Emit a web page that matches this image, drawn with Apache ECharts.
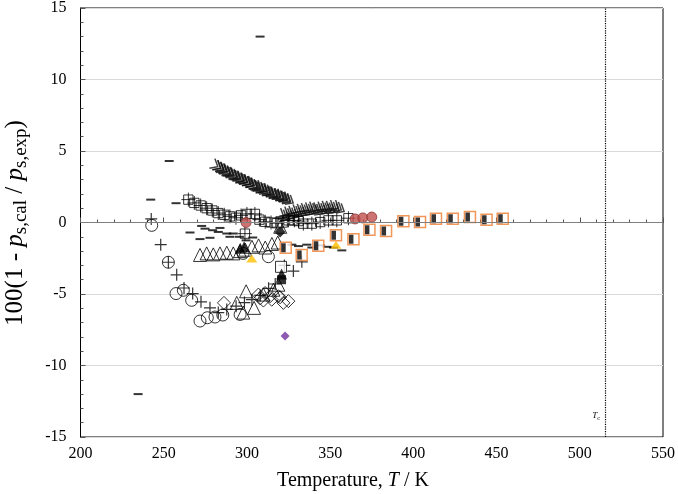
<!DOCTYPE html>
<html><head><meta charset="utf-8">
<script src="https://cdn.jsdelivr.net/npm/echarts@6/dist/echarts.min.js"></script>
<style>html,body{margin:0;padding:0;background:#fff}#c{width:678px;height:494px}</style>
</head><body><div id="c"></div>
<script>
// ---- data (T / K, deviation %) ----
const xTicks = [200, 250, 300, 350, 400, 450, 500, 550];
const yTicks = [-15, -10, -5, 0, 5, 10, 15];
const Tc = 515;
const dashData = [[234.6,-12.0],[242.2,1.6],[253.3,4.3],[257.4,1.35],[307.9,13.0],[265.8,-0.7],[272.8,-0.24],[274.8,-0.43],[279.4,-0.54],[283.8,-0.38],[282.8,-0.66],[287.9,-0.77],[291.8,-0.77],[289.8,-1.0],[271.8,-1.16],[277.8,-1.07],[295.5,-1.0],[299.5,-1.25],[303.5,-1.05],[327.0,-1.55],[331.0,-1.65],[336.0,-1.55],[339.0,-1.75],[344.0,-1.6],[348.0,-1.7],[352.0,-1.75],[357.0,-1.95]];
const crossSqData = [[264.8,1.6],[268.4,1.37],[272.2,1.19],[275.8,1.0],[279.2,0.84],[282.8,0.66],[286.4,0.54],[289.8,0.43],[293.4,0.33],[296.5,0.5],[300,0.6],[304.8,0.6],[307.5,0.2],[311,0.05],[314.5,0.0],[318,-0.05],[321.5,0.0],[325,0.15],[328.5,0.15],[331,0.1],[333.9,-0.08],[339,-0.08],[344,0.03],[349,0.15],[354,0.15],[361,0.3],[298.8,-0.78]];
const chevronUpData = [[282.5,3.9],[284.3,3.8],[286.4,3.6],[288.2,3.55],[290.5,3.35],[292.3,3.3],[294.6,3.1],[296.4,3.05],[298.6,2.9],[300.4,2.8],[302.7,2.7],[304.3,2.55],[306.8,2.4],[308.4,2.4],[310.6,2.2],[312.3,2.2],[314.7,2.0],[316.4,1.95],[318.6,1.85],[320.3,1.8],[322.6,1.65],[324.4,1.6]];
const chevronLowData = [[322,0.45],[324.5,0.55],[327,0.6],[329.5,0.7],[332,0.75],[334.5,0.8],[337,0.85],[339.5,0.9],[342,0.85],[344.5,0.9],[347,0.95],[349.5,0.95],[352,1.0],[355,1.0]];
const circleData = [[242.8,-0.2],[252.8,-2.78],[257.4,-4.97],[261.8,-4.74],[266.8,-5.44],[271.8,-6.89],[276.2,-6.66],[280.8,-6.61],[285.5,-6.47],[295.9,-6.43],[297.7,-2.16],[312.9,-2.39]];
const plusData = [[242.5,0.25],[248.2,-1.55],[252.8,-2.78],[257.8,-3.66],[262.2,-4.58],[267.4,-4.97],[272.4,-5.55],[277.8,-5.97],[282.8,-6.3],[287.9,-6.08],[293.5,-5.85],[298.5,-5.6],[303,-5.4],[308,-5.1],[313,-4.6],[317,-4.3],[322.5,-3.0],[327.9,-3.4],[333,-2.75]];
const triUpperData = [[271.8,-2.27],[275.8,-2.16],[279.8,-2.23],[283.8,-2.16],[287.9,-2.11],[291.8,-2.16],[295.8,-2.0],[299,-1.9],[303,-1.7],[307,-1.6],[311,-1.75],[315,-1.5],[318.5,-1.4],[320,-0.3]];
const triLowerData = [[293.9,-5.62],[297.8,-6.3],[299.5,-4.81],[304.3,-5.97],[309.9,-5.04],[315.9,-4.7],[318.9,-4.35]];
const diamondData = [[286.2,-5.62],[306.9,-5.04],[307.9,-5.3],[309.9,-5.46],[310.9,-4.93],[313.9,-5.16],[314.9,-5.4],[318.9,-5.16],[319.9,-5.23],[321.9,-5.62],[324.9,-5.5]];
const blackTriData = [[296,-1.8],[298.3,-1.7],[320.8,-3.6]];
const blackSqData = [[320.8,-4.0]];
const openSqData = [[320.5,-3.1]];
const blackDiamondData = [[319.9,-0.66]];
const yellowTriData = [[302.9,-2.3],[353.5,-1.35]];
const redCircleData = [[299.5,0.0],[365,0.25],[369.6,0.32],[375,0.38]];
const purpleDiamondData = [[322.9,-7.93]];
const orangeSqData = [[323.3,-1.77],[332.9,-2.27],[342.9,-1.63],[353.5,-0.9],[364,-1.17],[373.6,-0.5],[383.6,-0.6],[394,0.08],[404,0.03],[413.6,0.26],[423.7,0.26],[434,0.38],[444,0.2],[453.7,0.26]];

const chart = echarts.init(document.getElementById('c'), null, {renderer:'canvas'});
const F = 'Liberation Serif';
const open = (c) => ({color:'transparent', borderColor:c||'#000', borderWidth:1});
function sc(name, data, symbol, size, itemStyle, extra) {
  return Object.assign({type:'scatter', name, data, symbol, symbolSize:size, itemStyle, silent:true, animation:false}, extra||{});
}
const chev = 'path://M0,0 L6,5 L0,10 M3,0 L9,5 L3,10 M6,0 L12,5 L6,10';
const series = [
  sc('chevLow', chevronLowData, chev, [13,11], {color:'transparent', borderColor:'#111', borderWidth:1.5}, {symbolRotate:-30}),
  sc('chevUp', chevronUpData, chev, [13,11], {color:'transparent', borderColor:'#111', borderWidth:1.5}, {symbolRotate:-30}),
  sc('crossSq', crossSqData, 'path://M1,1 H9 V9 H1 Z M5,-1 V11 M-1,5 H11', 14, {color:'transparent', borderColor:'#000', borderWidth:1}),
  sc('dash', dashData, 'rect', [9,2], {color:'#000'}),
  sc('circle', circleData, 'circle', 12, open()),
  sc('plus', plusData, 'path://M5,0 V10 M0,5 H10', 12, {color:'transparent', borderColor:'#000', borderWidth:1.2}),
  sc('triUpper', triUpperData, 'triangle', 13, open()),
  sc('triLower', triLowerData, 'triangle', 13, open()),
  sc('diamond', diamondData, 'diamond', 13, open()),
  sc('openSq', openSqData, 'rect', 11, {color:'#fff', borderColor:'#000', borderWidth:1}),
  sc('blackTri', blackTriData, 'triangle', 11, {color:'#000'}),
  sc('blackSq', blackSqData, 'rect', 9, {color:'#000'}),
  sc('blackDiamond', blackDiamondData, 'diamond', 11, {color:'#000'}),
  sc('yellowTri', yellowTriData, 'triangle', [11,8], {color:'#FFC000'}, {symbolOffset:[0,3]}),
  sc('redCircle', redCircleData, 'circle', 10, {color:'#C0504D', borderColor:'#8C3532', borderWidth:1}),
  sc('purple', purpleDiamondData, 'diamond', 9, {color:'#7030A0'}),
  sc('orangeSq', orangeSqData, 'rect', 11, {color:'#fff', borderColor:'#ED7D31', borderWidth:1.5}),
  sc('orangeSqHalf', orangeSqData, 'path://M0,0 H5 V10 H0 Z M10,0 L10,10', 9, {color:'#000', borderWidth:0}),
  {type:'line', data:[], silent:true, animation:false,
   markLine:{silent:true, symbol:'none', label:{show:false}, animation:false,
     data:[{yAxis:0, lineStyle:{color:'#7f7f7f', width:1.2, type:'solid'}},
           {xAxis:Tc, lineStyle:{color:'#000', width:1.2, type:'dotted'}}]}, z:1}
];

chart.setOption({
  animation:false,
  grid:{left:80.5, right:15, top:4, bottom:57, show:true, borderColor:'#000', borderWidth:1},
  xAxis:{type:'value', min:xTicks[0], max:xTicks[xTicks.length-1], interval:50,
    axisLine:{lineStyle:{color:'#000'}}, splitLine:{show:false},
    axisTick:{inside:true, length:5, lineStyle:{color:'#555'}},
    minorTick:{show:true, splitNumber:5, length:3, lineStyle:{color:'#555'}},
    axisLabel:{color:'#000', fontFamily:F, fontSize:16, margin:9}},
  yAxis:{type:'value', min:yTicks[0], max:yTicks[yTicks.length-1], interval:5,
    axisLine:{lineStyle:{color:'#000'}},
    splitLine:{show:true, lineStyle:{color:'#d9d9d9'}},
    axisTick:{inside:true, length:5, lineStyle:{color:'#555'}},
    minorTick:{show:true, splitNumber:5, length:3, lineStyle:{color:'#555'}},
    axisLabel:{color:'#000', fontFamily:F, fontSize:16, margin:14}},
  graphic:[
    {type:'text', x:353, y:481, style:{text:'{n|Temperature, }{i|T}{n| / K}', align:'center', verticalAlign:'middle',
      rich:{n:{fontFamily:F, fontSize:20, fill:'#000'}, i:{fontFamily:F, fontSize:20, fontStyle:'italic', fill:'#000'}}}},
    {type:'text', x:15, y:223, rotation:Math.PI/2, style:{text:'{n|100(1 - }{i|p}{s|s,cal}{n| / }{i|p}{s|s,exp}{n|)}', align:'center', verticalAlign:'middle',
      rich:{n:{fontFamily:F, fontSize:25, fill:'#000'}, i:{fontFamily:F, fontSize:25, fontStyle:'italic', fill:'#000'}, s:{fontFamily:F, fontSize:19, fill:'#000', padding:[13,0,0,0]}}}},
    {type:'text', x:596, y:416, style:{text:'{i|T}{s|c}', align:'center', verticalAlign:'middle',
      rich:{i:{fontFamily:F, fontSize:9, fontStyle:'italic', fill:'#000'}, s:{fontFamily:F, fontSize:6, fill:'#000', padding:[4,0,0,0]}}}}
  ],
  series
});
</script></body></html>
